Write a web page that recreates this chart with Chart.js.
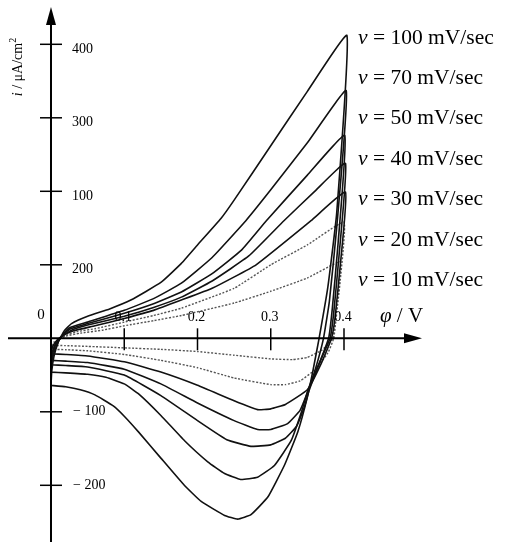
<!DOCTYPE html>
<html><head><meta charset="utf-8">
<script src="https://cdn.jsdelivr.net/npm/chart.js@4"></script>
<style>html,body{margin:0;padding:0;background:#fff}#wrap{width:507px;height:542px;position:relative}</style>
</head><body><div id="wrap"><canvas id="c"></canvas></div>
<script>
// ---- data (potential φ in V, current density i in µA/cm²) ----
const scanRates = [100, 70, 50, 40, 30, 20, 10];
const cv100 = [[0,-64],[0.001,-45],[0.004,-25],[0.01,-5],[0.018,10],[0.028,20],[0.05,30],[0.08,40],[0.109,52],[0.15,76],[0.178,102],[0.2,127],[0.232,163],[0.25,188],[0.3,262],[0.35,336],[0.404,412],
  [0.39,170],[0.378,70],[0.366,0],[0.358,-42],[0.35,-80],[0.337,-127],[0.319,-172],[0.296,-216],[0.273,-240],[0.255,-246],[0.237,-241],[0.205,-222],[0.182,-200],[0.15,-163],[0.12,-128],[0.1,-106],[0.085,-92],[0.06,-77],[0.04,-70],[0.02,-66],[0,-64]];
const cv70 = [[0,-46],[0.001,-34],[0.004,-20],[0.012,0],[0.025,14],[0.05,22],[0.1,38],[0.14,54],[0.178,75],[0.22,110],[0.266,160],[0.3,202],[0.35,266],[0.403,337],
  [0.39,150],[0.38,50],[0.372,0],[0.36,-45],[0.35,-73],[0.342,-100],[0.328,-139],[0.305,-173],[0.282,-189],[0.259,-192],[0.237,-184],[0.214,-168],[0.182,-139],[0.15,-105],[0.12,-76],[0.1,-62],[0.075,-53],[0.05,-49],[0.02,-47],[0,-46]];
const cv50 = [[0,-36],[0.002,-22],[0.006,-10],[0.013,0],[0.025,12],[0.05,20],[0.1,34],[0.14,47],[0.178,63],[0.22,88],[0.26,120],[0.294,160],[0.35,222],[0.401,276],
  [0.392,130],[0.384,40],[0.379,0],[0.364,-40],[0.352,-72],[0.346,-93],[0.335,-120],[0.32,-136],[0.3,-145],[0.273,-147],[0.24,-138],[0.2,-112],[0.15,-78],[0.1,-50],[0.05,-39],[0.02,-37],[0,-36]];
const cv40 = [[0,-30],[0.002,-18],[0.007,-6],[0.014,2],[0.028,11],[0.05,18],[0.1,30],[0.14,42],[0.178,56],[0.22,78],[0.27,112],[0.318,160],[0.36,200],[0.402,238],
  [0.393,110],[0.386,35],[0.381,0],[0.364,-39],[0.35,-74],[0.34,-98],[0.323,-116],[0.3,-124],[0.282,-124],[0.25,-112],[0.2,-88],[0.15,-62],[0.1,-42],[0.05,-33],[0.02,-31],[0,-30]];
const cv30 = [[0,-21],[0.002,-12],[0.007,-4],[0.015,3],[0.03,10],[0.06,17],[0.1,27],[0.14,38],[0.178,52],[0.22,68],[0.28,100],[0.355,160],[0.402,199],
  [0.395,100],[0.388,30],[0.383,0],[0.369,-34],[0.35,-70],[0.32,-90],[0.3,-96],[0.282,-97],[0.25,-85],[0.2,-64],[0.15,-46],[0.1,-32],[0.05,-24],[0.02,-22],[0,-21]];
const cv20 = [[0,-15],[0.003,-8],[0.008,-3],[0.018,3],[0.035,9],[0.06,13],[0.1,22],[0.14,31],[0.178,41],[0.25,68],[0.3,100],[0.35,127],[0.4,158],
  [0.395,80],[0.389,25],[0.386,0],[0.378,-20],[0.36,-43],[0.34,-58],[0.32,-63],[0.3,-63],[0.25,-54],[0.2,-40],[0.15,-30],[0.1,-22],[0.05,-17],[0.02,-15.5],[0,-15]];
const cv10 = [[0,-9.5],[0.004,-5],[0.01,-2],[0.02,3],[0.04,7],[0.07,11],[0.1,17],[0.14,24],[0.178,31],[0.25,48],[0.3,64],[0.35,82],[0.395,104],
  [0.391,50],[0.387,15],[0.385,0],[0.38,-6],[0.37,-16],[0.35,-26],[0.33,-29],[0.3,-28],[0.25,-23],[0.2,-18],[0.15,-15],[0.1,-13],[0.05,-11],[0.02,-10],[0,-9.5]];
const loops = [cv100, cv70, cv50, cv40, cv30, cv20, cv10];
const xTickValues = [0.1, 0.2, 0.3, 0.4];
const xTickLabels = ['0.1', '0.2', '0.3', '0.4'];
const yTickValues = [400, 300, 200, 100, -100, -200];
const yTickLabels = ['400', '300', '100', '200', '\u2212 100', '\u2212 200']; // as printed in the original figure

// ---- chart ----
const SERIF = '"Liberation Serif","DejaVu Serif",serif';
const datasets = loops.map((loop, k) => {
  const dotted = scanRates[k] <= 20;
  return {
    label: 'v = ' + scanRates[k] + ' mV/sec',
    data: loop.map(p => ({x: p[0], y: p[1]})),
    showLine: true,
    borderColor: dotted ? '#555' : '#111',
    borderWidth: dotted ? 1.4 : 1.6,
    borderDash: dotted ? [2, 1.6] : [],
    pointRadius: 0,
    tension: 0.12,
    fill: false
  };
});

const axesPlugin = {
  id: 'cvAxes',
  afterDatasetsDraw(chart) {
    const ctx = chart.ctx, xs = chart.scales.x, ys = chart.scales.y;
    const x0 = xs.getPixelForValue(0), y0 = ys.getPixelForValue(0);
    ctx.save();
    ctx.strokeStyle = '#000'; ctx.fillStyle = '#000';
    // x axis with arrow
    ctx.lineWidth = 2;
    ctx.beginPath(); ctx.moveTo(8, y0); ctx.lineTo(410, y0); ctx.stroke();
    ctx.beginPath(); ctx.moveTo(422, y0); ctx.lineTo(404, y0 - 5); ctx.lineTo(404, y0 + 5); ctx.closePath(); ctx.fill();
    // y axis with arrow
    ctx.beginPath(); ctx.moveTo(x0, 20); ctx.lineTo(x0, chart.height); ctx.stroke();
    ctx.beginPath(); ctx.moveTo(x0, 7); ctx.lineTo(x0 - 5, 25); ctx.lineTo(x0 + 5, 25); ctx.closePath(); ctx.fill();
    // ticks
    ctx.lineWidth = 1.5;
    xTickValues.forEach(v => {
      const px = xs.getPixelForValue(v);
      ctx.beginPath(); ctx.moveTo(px, y0 - 10); ctx.lineTo(px, y0 + 12); ctx.stroke();
    });
    yTickValues.forEach(v => {
      const py = ys.getPixelForValue(v);
      ctx.beginPath(); ctx.moveTo(x0 - 11, py); ctx.lineTo(x0 + 11, py); ctx.stroke();
    });
    // tick labels
    ctx.font = '14px ' + SERIF;
    ctx.textBaseline = 'middle';
    ctx.textAlign = 'center';
    xTickValues.forEach((v, k) => {
      ctx.fillText(xTickLabels[k], xs.getPixelForValue(v) - 1, y0 - 21);
    });
    ctx.textAlign = 'left';
    yTickValues.forEach((v, k) => {
      const py = ys.getPixelForValue(v);
      ctx.fillText(yTickLabels[k], x0 + (v > 0 ? 21 : 22), py + (v > 0 ? 5 : 0));
    });
    ctx.font = '15px ' + SERIF;
    ctx.textAlign = 'center';
    ctx.fillText('0', x0 - 10, y0 - 23);
    // x axis title  φ / V
    ctx.textAlign = 'left';
    ctx.font = 'italic 21px ' + SERIF;
    let tx = 380;
    ctx.fillText('\u03C6', tx, y0 - 22);
    tx += ctx.measureText('\u03C6').width;
    ctx.font = '21px ' + SERIF;
    ctx.fillText(' / V', tx, y0 - 22);
    // y axis title  i / µA/cm²
    ctx.save();
    ctx.translate(18, 67);
    ctx.rotate(-Math.PI / 2);
    ctx.font = 'italic 14px ' + SERIF;
    const wI = ctx.measureText('i').width;
    ctx.font = '14px ' + SERIF;
    const rest = ' / \u03BCA/cm';
    const wR = ctx.measureText(rest).width;
    ctx.font = '10px ' + SERIF;
    const wS = ctx.measureText('2').width;
    let sx = -(wI + wR + wS) / 2;
    ctx.font = 'italic 14px ' + SERIF; ctx.fillText('i', sx, 0); sx += wI;
    ctx.font = '14px ' + SERIF; ctx.fillText(rest, sx, 0); sx += wR;
    ctx.font = '10px ' + SERIF; ctx.fillText('2', sx, -5);
    ctx.restore();
    // scan-rate labels
    scanRates.forEach((r, k) => {
      const ly = 38 + k * 40.4;
      let lx = 358;
      ctx.font = 'italic 21.5px ' + SERIF;
      ctx.fillText('\u03BD', lx, ly);
      lx += ctx.measureText('\u03BD').width;
      ctx.font = '21.5px ' + SERIF;
      ctx.fillText(' = ' + r + ' mV/sec', lx, ly);
    });
    ctx.restore();
  }
};

new Chart(document.getElementById('c'), {
  type: 'scatter',
  data: { datasets },
  options: {
    responsive: true,
    maintainAspectRatio: false,
    animation: false,
    layout: { padding: 0 },
    plugins: { legend: { display: false }, tooltip: { enabled: false } },
    scales: {
      x: { type: 'linear', min: -0.06962, max: 0.62253, display: false },
      y: { type: 'linear', min: -277.14, max: 460.27, display: false }
    }
  },
  plugins: [axesPlugin]
});
</script>
</body></html>
